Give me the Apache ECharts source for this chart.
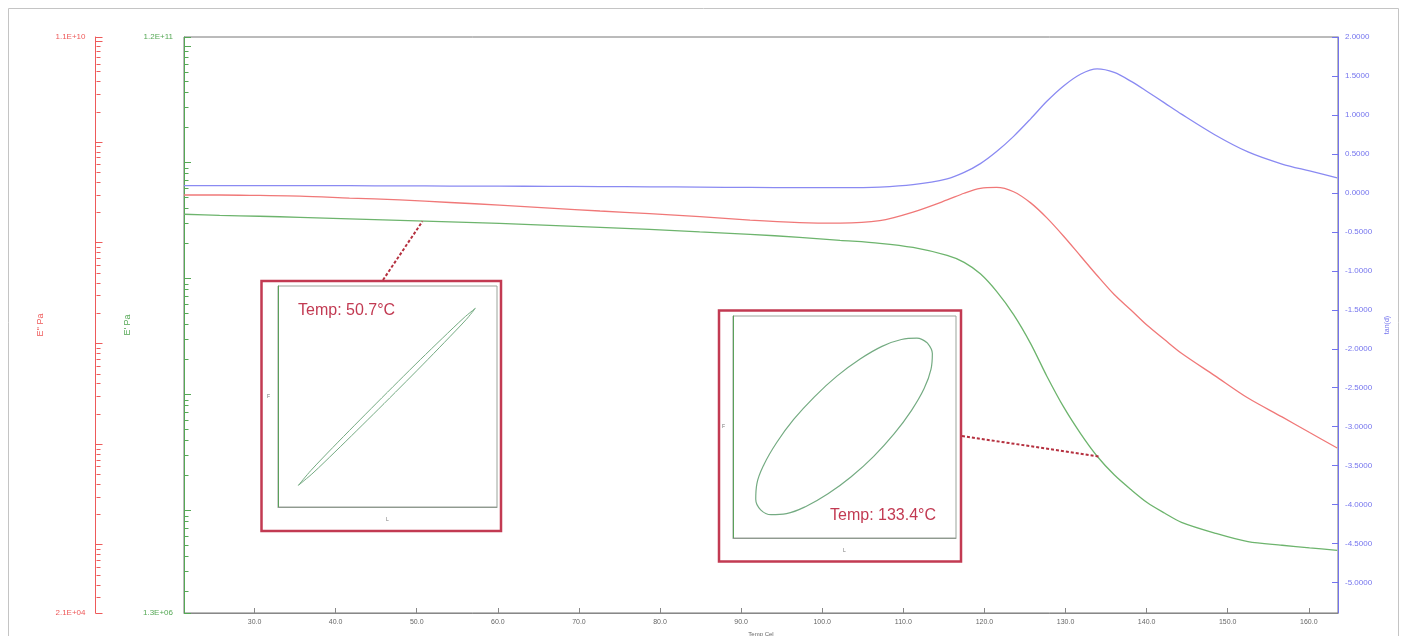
<!DOCTYPE html>
<html><head><meta charset="utf-8">
<script src="https://cdn.jsdelivr.net/npm/echarts@6/dist/echarts.min.js"></script>
<style>html,body{margin:0;padding:0;background:#fff}#c{width:1407px;height:636px}</style>
</head><body><div id="c"></div>
<script>
// ---- data ----
const temps = [21.3, 25.7, 30.6, 35.6, 41.7, 47.9, 54.1, 60.2, 66.4, 72.6, 78.7, 84.9, 91.1, 97.2, 102.2, 107.1, 111.2, 115.4, 117.5, 119.5, 121.5, 123.6, 125.7, 127.7, 129.8, 131.9, 133.9, 136.0, 138.1, 140.1, 142.2, 144.3, 148.4, 152.5, 156.7, 160.1, 163.5];
const storageModulus = [3.56e9, 3.48e9, 3.42e9, 3.35e9, 3.25e9, 3.15e9, 3.06e9, 2.97e9, 2.85e9, 2.74e9, 2.64e9, 2.51e9, 2.39e9, 2.25e9, 2.12e9, 2.00e9, 1.84e9, 1.57e9, 1.37e9, 1.09e9, 7.69e8, 4.85e8, 2.73e8, 1.43e8, 7.69e7, 4.53e7, 2.92e7, 2.02e7, 1.50e7, 1.16e7, 9.46e6, 7.87e6, 6.36e6, 5.36e6, 4.99e6, 4.74e6, 4.51e6];
const lossModulus = [2.97e8, 2.97e8, 2.94e8, 2.90e8, 2.77e8, 2.65e8, 2.50e8, 2.36e8, 2.20e8, 2.06e8, 1.94e8, 1.81e8, 1.67e8, 1.58e8, 1.56e8, 1.65e8, 2.01e8, 2.65e8, 3.09e8, 3.45e8, 3.53e8, 3.20e8, 2.48e8, 1.76e8, 1.15e8, 7.28e7, 4.71e7, 3.05e7, 2.13e7, 1.50e7, 1.09e7, 7.97e6, 4.78e6, 2.86e6, 1.86e6, 1.30e6, 9.14e5];
const tanDelta = [0.094, 0.094, 0.094, 0.093, 0.092, 0.090, 0.088, 0.086, 0.084, 0.081, 0.078, 0.074, 0.070, 0.068, 0.068, 0.075, 0.105, 0.180, 0.262, 0.375, 0.530, 0.725, 0.950, 1.175, 1.375, 1.525, 1.590, 1.545, 1.430, 1.298, 1.155, 1.010, 0.746, 0.525, 0.370, 0.281, 0.193];

const tempRange = [21.3, 163.6];
const lossRange = [2.1e4, 1.1e10];
const storageRange = [1.3e6, 1.2e11];
const tanRange = [-5.39, 2.0];

const xTickValues = [30, 40, 50, 60, 70, 80, 90, 100, 110, 120, 130, 140, 150, 160];
const tanTickValues = [2, 1.5, 1, 0.5, 0, -0.5, -1, -1.5, -2, -2.5, -3, -3.5, -4, -4.5, -5];
const minorMultipliers = [2, 3, 4, 5, 6, 7, 8, 9];
const lossDecades = [1e4, 1e5, 1e6, 1e7, 1e8, 1e9, 1e10];
const storageDecades = [1e6, 1e7, 1e8, 1e9, 1e10, 1e11];

// Lissajous loops inside the two insets, in 0..100 inset units
const loop1 = [[9.3,9.8],[15,16.5],[25,26.9],[35,37.0],[45,47.0],[55,56.9],[65,66.7],[75,76.3],[85,85.7],[90.1,89.9],
               [86,84.9],[76,74.5],[66,64.3],[56,54.3],[46,44.4],[36,34.6],[26,24.9],[16,15.4],[9.3,9.8]];
const loop2 = [[87.2,87.8],[89.4,83.1],[88.8,76.1],[85.7,67.3],[80.0,57.4],[72.3,47.0],[63.1,36.8],[53.0,27.6],[42.6,19.9],
               [32.7,14.2],[24.0,11.0],[17.1,10.5],[12.4,12.7],[10.2,17.4],[10.7,24.4],[13.9,33.1],[19.6,43.0],[27.2,53.4],
               [36.5,63.6],[46.6,72.9],[57.0,80.6],[66.8,86.3],[75.5,89.4],[82.5,90.0],[87.2,87.8]];
const inset1 = {temp: 50.7, modulus: 3.09e9, label: 'Temp: 50.7°C'};
const inset2 = {temp: 134.2, modulus: 2.9e7, label: 'Temp: 133.4°C'};

// ---- styling ----
const FONT = 'Liberation Sans, Arial, sans-serif';
const RED = '#f07878', RED_AX = '#ee5a5a';
const GREEN = '#6db46d', GREEN_AX = '#55a855';
const BLUE = '#8a8af2', BLUE_AX = '#7474ee';
const CRIMSON = '#c23a52';
const LOOP = '#74ab82';
const GRID = {left: 184, top: 37, width: 1154, height: 576};
const RED_OFFSET = 88.5;

function minorTicks(decades, range) {
  const out = [];
  decades.forEach(d => minorMultipliers.forEach(m => {
    const v = d * m;
    if (v > range[0] && v < range[1]) out.push(v);
  }));
  return out;
}
const lossMinor = minorTicks(lossDecades, lossRange);
const storageMinor = minorTicks(storageDecades, storageRange);

function sci(v) {
  const e = Math.floor(Math.log10(v) + 1e-9);
  const m = v / Math.pow(10, e);
  return m.toFixed(1) + 'E' + (e < 0 ? '-' : '+') + String(Math.abs(e)).padStart(2, '0');
}
function endLabel(range) {
  return function (v) {
    const lv = Math.log10(v);
    if (Math.abs(lv - Math.log10(range[0])) < 1e-4 || Math.abs(lv - Math.log10(range[1])) < 1e-4) return sci(v);
    return '';
  };
}
function tickRenderer(offsetPx, len, color) {
  return function (params, api) {
    const p = api.coord([api.value(0), api.value(1)]);
    const x0 = Math.round(p[0] - offsetPx) + 0.5;
    const y0 = Math.round(p[1]) + 0.5;
    return {type: 'line', silent: true, shape: {x1: x0, y1: y0, x2: x0 + len, y2: y0}, style: {stroke: color, lineWidth: 1}};
  };
}
function pairs(xs, ys) { return xs.map((t, i) => [t, ys[i]]); }

const chart = echarts.init(document.getElementById('c'), null, {renderer: 'canvas'});

const insetAxisX = (gi, name) => ({
  type: 'value', gridIndex: gi, min: 0, max: 100,
  axisLine: {show: true, lineStyle: {color: '#8f9a8f', width: 1}}, axisTick: {show: false},
  axisLabel: {show: false}, splitLine: {show: false},
  name: name, nameLocation: 'middle', nameGap: 10, nameTextStyle: {fontSize: 5, color: '#777', fontFamily: FONT}
});
const insetAxisY = (gi, name) => ({
  type: 'value', gridIndex: gi, min: 0, max: 100,
  axisLine: {show: true, lineStyle: {color: '#5aa05a', width: 1}}, axisTick: {show: false},
  axisLabel: {show: false}, splitLine: {show: false},
  name: name, nameLocation: 'middle', nameGap: 8, nameRotate: 0, nameTextStyle: {fontSize: 5, color: '#777', fontFamily: FONT}
});

const option = {
  animation: false,
  backgroundColor: '#ffffff',
  textStyle: {fontFamily: FONT},
  grid: [
    Object.assign({show: true, borderColor: '#777', borderWidth: 1, backgroundColor: 'transparent',
                   containLabel: false, outerBoundsMode: 'none'}, GRID),
    {left: 278, top: 286, width: 219, height: 221, show: true, borderColor: '#9aa39a', borderWidth: 1,
     backgroundColor: '#fff', containLabel: false, outerBoundsMode: 'none'},
    {left: 733, top: 316, width: 223, height: 222, show: true, borderColor: '#9aa39a', borderWidth: 1,
     backgroundColor: '#fff', containLabel: false, outerBoundsMode: 'none'}
  ],
  xAxis: [
    {
      type: 'value', gridIndex: 0, min: tempRange[0], max: tempRange[1],
      axisLine: {show: true, onZero: false, lineStyle: {color: '#888'}},
      axisTick: {show: true, inside: true, length: 5, customValues: xTickValues, lineStyle: {color: '#888'}},
      axisLabel: {customValues: xTickValues, formatter: v => v.toFixed(1), fontSize: 7, color: '#666', margin: 6},
      splitLine: {show: false},
      name: 'Temp Cel', nameLocation: 'middle', nameGap: 16, nameTextStyle: {fontSize: 6, color: '#666'}
    },
    insetAxisX(1, 'L'),
    insetAxisX(2, 'L')
  ],
  yAxis: [
    {
      type: 'log', logBase: 10, gridIndex: 0, position: 'left', offset: RED_OFFSET,
      min: lossRange[0], max: lossRange[1],
      axisLine: {show: true, onZero: false, lineStyle: {color: RED_AX}},
      axisTick: {show: true, inside: true, length: 7, lineStyle: {color: RED_AX}},
      axisLabel: {formatter: endLabel(lossRange), fontSize: 8, color: RED_AX, margin: 10},
      splitLine: {show: false}, minorTick: {show: false},
      name: "E'' Pa", nameLocation: 'middle', nameGap: 43, nameRotate: 90,
      nameTextStyle: {color: RED_AX, fontSize: 9}
    },
    {
      type: 'log', logBase: 10, gridIndex: 0, position: 'left', offset: 0,
      min: storageRange[0], max: storageRange[1],
      axisLine: {show: true, onZero: false, lineStyle: {color: GREEN_AX}},
      axisTick: {show: true, inside: true, length: 7, lineStyle: {color: GREEN_AX}},
      axisLabel: {formatter: endLabel(storageRange), fontSize: 8, color: GREEN_AX, margin: 11},
      splitLine: {show: false}, minorTick: {show: false},
      name: "E' Pa", nameLocation: 'middle', nameGap: 41, nameRotate: 90,
      nameTextStyle: {color: GREEN_AX, fontSize: 9}
    },
    {
      type: 'value', gridIndex: 0, position: 'right', min: tanRange[0], max: tanRange[1],
      axisLine: {show: true, onZero: false, lineStyle: {color: BLUE_AX}},
      axisTick: {show: true, inside: true, length: 6, customValues: tanTickValues, lineStyle: {color: BLUE_AX}},
      axisLabel: {customValues: tanTickValues, formatter: v => v.toFixed(4), fontSize: 8, color: BLUE_AX, margin: 7},
      splitLine: {show: false},
      name: 'tan(d)', nameLocation: 'middle', nameGap: 46, nameRotate: 90,
      nameTextStyle: {color: BLUE_AX, fontSize: 7}
    },
    insetAxisY(1, 'F'),
    insetAxisY(2, 'F')
  ],
  series: [
    {name: "E''", type: 'line', xAxisIndex: 0, yAxisIndex: 0, data: pairs(temps, lossModulus),
     smooth: 0.3, symbol: 'none', lineStyle: {color: RED, width: 1.3}, z: 3},
    {name: "E'", type: 'line', xAxisIndex: 0, yAxisIndex: 1, data: pairs(temps, storageModulus),
     smooth: 0.3, symbol: 'none', lineStyle: {color: GREEN, width: 1.3}, z: 3},
    {name: 'tan(d)', type: 'line', xAxisIndex: 0, yAxisIndex: 2, data: pairs(temps, tanDelta),
     smooth: 0.3, symbol: 'none', lineStyle: {color: BLUE, width: 1.3}, z: 3},
    {type: 'custom', xAxisIndex: 0, yAxisIndex: 0, silent: true, clip: false,
     data: lossMinor.map(v => [tempRange[0], v]), renderItem: tickRenderer(RED_OFFSET, 4, RED_AX), z: 4},
    {type: 'custom', xAxisIndex: 0, yAxisIndex: 1, silent: true, clip: false,
     data: storageMinor.map(v => [tempRange[0], v]), renderItem: tickRenderer(0, 4, GREEN_AX), z: 4},
    {name: 'loop 50.7', type: 'line', xAxisIndex: 1, yAxisIndex: 3, data: loop1, smooth: 0.3,
     symbol: 'none', lineStyle: {color: LOOP, width: 1}},
    {name: 'loop 133.4', type: 'line', xAxisIndex: 2, yAxisIndex: 4, data: loop2, smooth: 0.4,
     symbol: 'none', lineStyle: {color: LOOP, width: 1.2}}
  ]
};
chart.setOption(option);

const p1 = chart.convertToPixel({xAxisIndex: 0, yAxisIndex: 1}, [inset1.temp, inset1.modulus]);
const p2 = chart.convertToPixel({xAxisIndex: 0, yAxisIndex: 1}, [inset2.temp, inset2.modulus]);

chart.setOption({
  graphic: [
    {type: 'rect', silent: true, z: 0, shape: {x: 8.5, y: 8.5, width: 1390, height: 640},
     style: {fill: 'none', stroke: '#c4c4c4', lineWidth: 1}},
    {type: 'rect', silent: true, z: 10, shape: {x: 261.5, y: 281, width: 239.5, height: 250},
     style: {fill: 'none', stroke: CRIMSON, lineWidth: 2.5}},
    {type: 'rect', silent: true, z: 10, shape: {x: 719, y: 310.5, width: 242, height: 251},
     style: {fill: 'none', stroke: CRIMSON, lineWidth: 2.5}},
    {type: 'line', silent: true, z: 10, shape: {x1: 383, y1: 280, x2: p1[0], y2: p1[1]},
     style: {stroke: '#b5303f', lineWidth: 2, lineDash: [3, 2]}},
    {type: 'line', silent: true, z: 10, shape: {x1: 962, y1: 436, x2: p2[0], y2: p2[1]},
     style: {stroke: '#b5303f', lineWidth: 2, lineDash: [3, 2]}},
    {type: 'text', silent: true, z: 11, x: 298, y: 311,
     style: {text: inset1.label, fill: CRIMSON, font: '16px ' + FONT, verticalAlign: 'middle'}},
    {type: 'text', silent: true, z: 11, x: 830, y: 516,
     style: {text: inset2.label, fill: CRIMSON, font: '16px ' + FONT, verticalAlign: 'middle'}}
  ]
});
</script>
</body></html>
